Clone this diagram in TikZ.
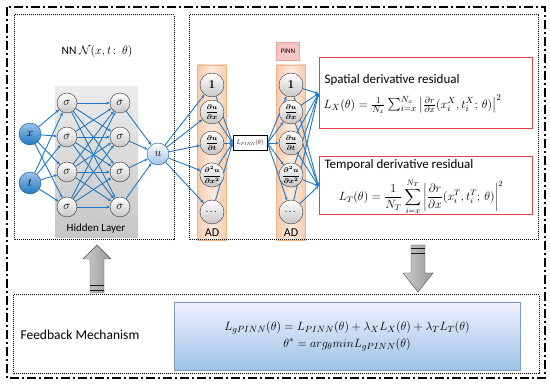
\documentclass[tikz,border=0pt]{standalone}
\usepackage{amsmath,amssymb}
\usepackage{fontspec}
\setmainfont{Carlito}
\usetikzlibrary{arrows.meta,positioning,calc,backgrounds}
\definecolor{nnBlue}{HTML}{1F78C8}
\definecolor{adOrange}{HTML}{F8CBAD}
\definecolor{adEdge}{HTML}{F4B183}
\definecolor{resRed}{HTML}{E04040}
\definecolor{fbBlue}{HTML}{9DC3E6}
\pgfdeclarelayer{edges}
\pgfsetlayers{background,edges,main}

\begin{document}
\begin{tikzpicture}[x=1pt,y=-1pt,font=\fontsize{11.5}{13}\selectfont,
  frame/.style={densely dotted, line width=1pt},
  sig/.style={circle, draw=gray!40!black, top color=white, bottom color=gray!45,
    minimum size=20pt, inner sep=0pt, font=\fontsize{12}{12}\selectfont},
  inp/.style={circle, draw=nnBlue!70!black, top color=nnBlue!45, bottom color=nnBlue,
    minimum size=22pt, inner sep=0pt, font=\fontsize{12}{12}\selectfont},
  outp/.style={inp, top color=white, bottom color=nnBlue!45},
  adnode/.style={sig, minimum size=24pt, font=\fontsize{7}{8}\selectfont\boldmath},
  adcol/.style={draw=adEdge, left color=adOrange, right color=adOrange,
    middle color=adOrange!40, minimum width=29pt, minimum height=175pt},
  resbox/.style={draw=resRed, line width=1pt, minimum width=213pt},
  edge/.style={draw=nnBlue, line width=0.9pt, -{Stealth[length=3.5pt,width=3pt]}},
  bigarrow/.style={draw=gray!60!black, left color=gray!40, right color=gray!80}]
\useasboundingbox (0,0) rectangle (550,385);
% frames
\draw[line width=1.2pt, dash pattern=on 9pt off 3pt on 2pt off 3pt] (7,7) rectangle (545,378);
\draw[frame] (14,15) rectangle (174,240);
\draw[frame] (189,15) rectangle (538,240);
\draw[frame] (13,295) rectangle (539,374);

% neural network
\node (title) at (97,52) {NN $\mathcal{N}(x,t\colon\,\theta)$};
\begin{pgfonlayer}{background}
\node[top color=gray!15, bottom color=gray!45, minimum width=83pt,
  minimum height=151pt] (hid) at (96.5,162.5) {};
\node[adcol] (ad1) at (212,152.5) {};
\node[adcol] (ad2) at (291,152.5) {};
\end{pgfonlayer}
\node[font=\fontsize{11}{12}\selectfont] (hidlbl) at (96,229) {Hidden Layer};
\foreach \j/\y in {1/103,2/137,3/172,4/207}{
  \node[sig] (a\j) at (67,\y) {$\sigma$};
  \node[sig] (b\j) at (120,\y) {$\sigma$};
}
\node[inp] (x) at (30,134) {$x$};
\node[inp] (t) at (30,183) {$t$};
\node[outp] (u) at (158,154) {$u$};

% automatic differentiation columns
\node[font=\fontsize{12}{12}\selectfont] (ad1lbl) at (212,233) {AD};
\node[font=\fontsize{12}{12}\selectfont] (ad2lbl) at (291,233) {AD};
\node[draw=resRed!50, fill=resRed!30, minimum width=23pt, minimum height=18pt,
  inner sep=0pt, font=\fontsize{7}{8}\selectfont] (pinn) at (288,51) {PINN};
\node[draw, line width=1pt, fill=white, minimum width=34pt, minimum height=15pt,
  inner sep=0pt] (lp) at (250,143) {\scalebox{0.55}{$L_{PINN}(\theta)$}};
\foreach \c/\x in {p/212,q/291}{
  \node[adnode] (\c1) at (\x,85) {\fontsize{12}{12}\selectfont$1$};
  \node[adnode] (\c2) at (\x,112) {$\dfrac{\partial u}{\partial x}$};
  \node[adnode] (\c3) at (\x,143) {$\dfrac{\partial u}{\partial t}$};
  \node[adnode] (\c4) at (\x,175) {$\dfrac{\partial^2 u}{\partial x^2}$};
  \node[adnode] (\c5) at (\x,212) {$\dots$};
}

% residual boxes
\node[resbox, minimum height=71pt] (rx) at (425.5,93.5) {};
\node[resbox, minimum height=58pt] (rt) at (425.5,186) {};
\node[anchor=west, font=\fontsize{13}{15}\selectfont] (rxlbl) at (321,80) {Spatial derivative residual};
\node[anchor=west, font=\fontsize{12.5}{14}\selectfont] (rxeq) at (320,104)
  {$L_X(\theta)=\frac{1}{N_x}\sum_{i=x}^{N_x}\left|\frac{\partial r}{\partial x}(x_i^X,t_i^X;\,\theta)\right|^2$};
\node[anchor=west, font=\fontsize{13}{15}\selectfont] (rtlbl) at (321,165) {Temporal derivative residual};
\node[font=\fontsize{11.5}{13}\selectfont] (rteq) at (421,197)
  {$\displaystyle L_T(\theta)=\frac{1}{N_T}\sum_{i=x}^{N_T}\left|\frac{\partial r}{\partial x}(x_i^T,t_i^T;\,\theta)\right|^2$};

% connectors
\begin{pgfonlayer}{edges}
\foreach \i in {x,t}{\foreach \j in {1,...,4}{\draw[edge] (\i) -- (a\j);}}
\foreach \i in {1,...,4}{\foreach \j in {1,...,4}{\draw[edge] (a\i) -- (b\j);}}
\foreach \j in {1,...,4}{\draw[edge] (b\j) -- (u);}
\foreach \j in {1,...,5}{
  \draw[edge] (u) -- (p\j);
  \draw[edge] (p\j) -- (lp.west);
  \draw[edge] (lp.east) -- (q\j);
  \draw[edge] (q\j) -- (rx.west);
  \draw[edge] (q\j) -- (rt.west);
}
\end{pgfonlayer}

% feedback arrows
\draw[bigarrow] (90,293) -- (90,259) -- (83,259) -- (97,245) -- (111,259) -- (104,259) -- (104,293) -- cycle;
\draw[bigarrow] (411,245) -- (411,273) -- (403,273) -- (418,292) -- (433,273) -- (425,273) -- (425,245) -- cycle;
\foreach \y in {285,290}{\draw[gray!20!black, line width=0.8pt] (90,\y) -- (104,\y);}
\foreach \y in {248,253}{\draw[gray!20!black, line width=0.8pt] (411,\y) -- (425,\y);}

% feedback mechanism
\node[anchor=west, font=\fontsize{13.5}{15}\selectfont] (fblbl) at (17,335) {Feedback Mechanism};
\node[draw=fbBlue!80!black, top color=blue!6, bottom color=fbBlue, minimum width=346pt,
  minimum height=68pt, align=center, font=\fontsize{12.5}{17}\selectfont] (fb) at (347,336)
  {$L_{gPINN}(\theta)=L_{PINN}(\theta)+\lambda_X L_X(\theta)+\lambda_T L_T(\theta)$\\
   $\theta^*=arg_{\theta}min L_{gPINN}(\theta)$};
\end{tikzpicture}
\end{document}
